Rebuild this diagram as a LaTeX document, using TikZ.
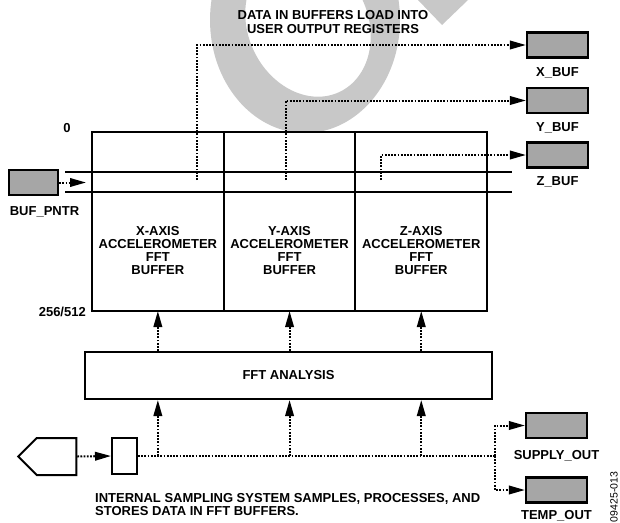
\documentclass[tikz,border=0pt]{standalone}
\usepackage{fontspec}
\setmainfont{Liberation Sans}
\usepackage{tikz}
\usepackage{xcolor}
\usetikzlibrary{calc}
\usetikzlibrary{positioning}
\usetikzlibrary{arrows.meta}
\usetikzlibrary{shapes.symbols}
\definecolor{regColor}{HTML}{A6A6A6}
\definecolor{stampColor}{HTML}{C8C8C8}

\begin{document}
\begin{tikzpicture}[
		x=1pt, y=-1pt,
		line/.style={draw=black, line width=2pt},
		column/.style={rectangle, draw=black, line width=2pt, outer sep=0pt, minimum width=131.7pt, minimum height=179pt},
		register/.style={rectangle, draw=black, line width=2.2pt, fill=regColor, minimum width=61pt, minimum height=25pt, inner sep=0pt},
		dotted line/.style={draw=black, line width=2pt, dash pattern=on 1.8pt off 1.4pt},
		dotted arrow/.style={dotted line, -{Triangle[length=16pt, width=8.5pt]}},
		text box/.style={font=\bfseries\fontsize{13}{13.2}\selectfont, align=center, inner sep=0pt},
		id box/.style={font=\fontsize{10.5}{10.5}\selectfont, inner sep=0pt},
	]
	\useasboundingbox (0,0) rectangle (620,522);
	% Watermark
	\fill[stampColor, even odd rule] (305,20) circle [x radius=95, y radius=113]
		(308,25) circle [x radius=60, y radius=74, rotate=25];
	\fill[stampColor] (418,0) -- (468,0) -- (442,25) -- cycle;
	% Buffer columns
	\node[column] (xcol) at (157.85,221.5) {};
	\node[column, right=0pt of xcol] (ycol) {};
	\node[column, right=0pt of ycol] (zcol) {};
	\node[text box] (xtext) at ($(xcol.center)+(0,29)$) {X-AXIS\\ACCELEROMETER\\FFT\\BUFFER};
	\node[text box] (ytext) at ($(ycol.center)+(0,29)$) {Y-AXIS\\ACCELEROMETER\\FFT\\BUFFER};
	\node[text box] (ztext) at ($(zcol.center)+(0,29)$) {Z-AXIS\\ACCELEROMETER\\FFT\\BUFFER};
	\draw[line] (65,172) -- (512,172);
	\draw[line] (65,192) -- (512,192);
	\node[text box] (top index) at (67,128) {0};
	\node[text box, anchor=east] (end index) at (86,312) {256/512};
	% Buffer pointer
	\node[register, minimum width=49pt] (bufpntr) at (33.5,182.5) {};
	\node[text box] (bufpntr label) at (44.5,212) {BUF\_PNTR};
	\coordinate (ptr) at (86,182.5);
	\draw[dotted arrow] (bufpntr.east) -- (ptr);
	% Output registers
	\node[register] (xbuf) at (557.5,45) {};
	\node[register] (ybuf) at (557.5,100.5) {};
	\node[register] (zbuf) at (557.5,155) {};
	\node[text box, below=9pt of xbuf] (xbuf label) {X\_BUF};
	\node[text box, below=8pt of ybuf] (ybuf label) {Y\_BUF};
	\node[text box, below=8pt of zbuf] (zbuf label) {Z\_BUF};
	\coordinate (xsrc) at (197,180);
	\coordinate (ysrc) at (286,180);
	\coordinate (zsrc) at (381,180);
	\draw[dotted arrow] (xsrc) |- (xbuf.west);
	\draw[dotted arrow] (ysrc) |- (ybuf.west);
	\draw[dotted arrow] (zsrc) |- (zbuf.west);
	\node[text box] (load note) at (333,22) {DATA IN BUFFERS LOAD INTO\\USER OUTPUT REGISTERS};
	% FFT analysis
	\node[rectangle, draw=black, line width=2pt, minimum width=407pt, minimum height=47pt, text box] (fft) at (288.5,375.5) {FFT ANALYSIS};
	\foreach \col in {xcol, ycol, zcol}
		\draw[dotted arrow] (fft.north -| \col.center) -- (\col.south);
	% Sampling system
	\node[signal, signal to=west, signal pointer angle=90, draw=black, line width=2pt, minimum width=58pt, minimum height=37pt, inner sep=0pt] (sensor) at (56.5,456.5) {};
	\node[rectangle, draw=black, line width=2pt, minimum width=25pt, minimum height=36pt, inner sep=0pt] (sampler) at (124.5,456) {};
	\draw[dotted arrow] (sensor.east) -- (sampler.west);
	\coordinate (split) at (495,456);
	\draw[dotted line] (sampler.east) -- (split);
	\foreach \col in {xcol, ycol, zcol}
		\draw[dotted arrow] (sampler.east -| \col.center) -- (fft.south -| \col.center);
	\node[register] (supply) at (556.5,425.5) {};
	\node[register] (temp) at (556.5,490) {};
	\draw[dotted arrow] (split) |- (supply.west);
	\draw[dotted arrow] (split) |- (temp.west);
	\node[text box, below=11pt of supply] (supply label) {SUPPLY\_OUT};
	\node[text box, below=7pt of temp] (temp label) {TEMP\_OUT};
	\node[text box, align=left, anchor=north west] (sample note) at (95,493) {INTERNAL SAMPLING SYSTEM SAMPLES, PROCESSES, AND\\STORES DATA IN FFT BUFFERS.};
	\node[id box, rotate=90] (fig id) at (614,497) {09425-013};
\end{tikzpicture}
\end{document}
